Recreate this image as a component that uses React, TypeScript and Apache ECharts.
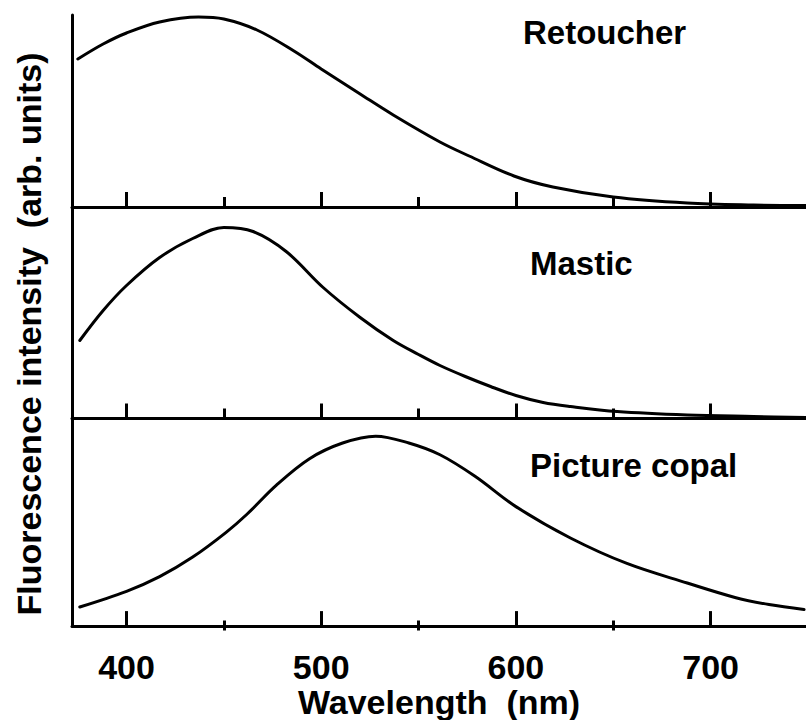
import React, { useEffect, useRef } from "react";
import * as echarts from "echarts";

// ---- data ----
const majorTicks = [400, 500, 600, 700];
const minorTicks = [450, 550, 650];
const xMin = 372;
const xMax = 749;

const retoucherWl = [375, 388, 400, 417, 437, 450, 467, 486, 500, 520, 537, 561, 576, 599, 619, 650, 688, 722, 749];
const retoucherVal = [148, 163, 174, 185, 190, 188, 177, 156, 138, 113, 92, 65, 51, 31, 20, 10, 4, 2, 1.5];

const masticWl = [376, 388, 400, 417, 434, 450, 465, 482, 501, 520, 537, 550, 561, 574, 587, 600, 614, 628, 652, 688, 722, 749];
const masticVal = [78, 108, 133, 161, 180, 191, 187, 167, 131, 101, 78, 64, 53, 42, 32, 23, 16, 12, 7, 3.5, 2, 1];

const copalWl = [376, 400, 417, 434, 451, 462, 477, 494, 511, 528, 545, 561, 579, 600, 628, 657, 688, 713, 730, 748];
const copalVal = [19.5, 35.5, 50.5, 70.5, 95.5, 114.5, 144, 171, 187, 194, 187, 175, 153, 122, 90, 64, 44, 29, 22, 17];

const panelNames = ["Retoucher", "Mastic", "Picture copal"];
const yTitle = "Fluorescence intensity  (arb. units)";
const xTitle = "Wavelength  (nm)";

const FONT = "'Liberation Sans', Arial, Helvetica, sans-serif";

export default function App() {
  const ref = useRef<HTMLDivElement>(null);

  useEffect(() => {
    if (!ref.current) return;
    const chart = echarts.init(ref.current, null, { renderer: "svg" });

    const panels = [
      { top: 15, height: 192, wl: retoucherWl, val: retoucherVal },
      { top: 207, height: 211.5, wl: masticWl, val: masticVal },
      { top: 418.5, height: 212, wl: copalWl, val: copalVal },
    ];
    const labelPos = [
      { x: 523, y: 32 },
      { x: 530, y: 263 },
      { x: 530, y: 465 },
    ];

    const grid: any[] = [];
    const xAxis: any[] = [];
    const yAxis: any[] = [];
    const series: any[] = [];

    const tickStyle = { color: "#000", width: 3 };

    panels.forEach((p, i) => {
      grid.push({ left: 72, right: 0, top: p.top, height: p.height, containLabel: false });
      const isBottom = i === panels.length - 1;
      // main axis: baseline + major ticks (pointing up)
      xAxis.push({
        type: "value",
        gridIndex: i,
        position: "bottom",
        min: xMin,
        max: xMax,
        splitLine: { show: false },
        axisLine: { show: true, onZero: false, lineStyle: { color: "#000", width: 3 } },
        axisTick: { show: true, inside: true, length: 15, customValues: majorTicks, lineStyle: tickStyle },
        axisLabel: {
          show: isBottom,
          customValues: majorTicks,
          margin: 24,
          color: "#000",
          fontSize: 34,
          fontWeight: "bold",
          fontFamily: FONT,
        },
        name: isBottom ? xTitle : "",
        nameLocation: "middle",
        nameGap: 50,
        nameTextStyle: { color: "#000", fontSize: 34, fontWeight: "bold", fontFamily: FONT },
      });
      yAxis.push({
        type: "value",
        gridIndex: i,
        min: 0,
        max: p.height,
        splitLine: { show: false },
        axisLine: { show: true, onZero: false, lineStyle: { color: "#000", width: 3 } },
        axisTick: { show: false },
        axisLabel: { show: false },
      });
      series.push({
        type: "line",
        name: panelNames[i],
        xAxisIndex: i,
        yAxisIndex: i,
        data: p.wl.map((w, k) => [w, p.val[k]]),
        smooth: 0.35,
        showSymbol: false,
        symbol: "none",
        lineStyle: { color: "#000", width: 3, cap: "round" },
      });
    });

    // helper strips whose top edge sits on each panel baseline; their top axis
    // carries the minor ticks (450, 550, 650) pointing up into the panel above
    const stripTops = [207, 418.5, 630.5];
    stripTops.forEach((t) => {
      const gi = grid.length;
      grid.push({ left: 72, right: 0, top: t, height: 30, containLabel: false });
      xAxis.push({
        type: "value",
        gridIndex: gi,
        position: "top",
        min: xMin,
        max: xMax,
        splitLine: { show: false },
        axisLine: { show: false, onZero: false },
        axisTick: { show: true, inside: false, length: 10, customValues: minorTicks, lineStyle: tickStyle },
        axisLabel: { show: false },
      });
      yAxis.push({
        type: "value",
        gridIndex: gi,
        min: 0,
        max: 1,
        show: false,
      });
    });

    const graphic: any[] = panelNames.map((n, i) => ({
      type: "text",
      x: labelPos[i].x,
      y: labelPos[i].y,
      style: {
        text: n,
        fill: "#000",
        font: `bold 33px ${FONT}`,
        align: "left",
        verticalAlign: "middle",
      },
    }));
    graphic.push({
      type: "text",
      x: 29,
      y: 334,
      rotation: Math.PI / 2,
      style: {
        text: yTitle,
        fill: "#000",
        font: `bold 34px ${FONT}`,
        align: "center",
        verticalAlign: "middle",
      },
    });

    chart.setOption({
      animation: false,
      backgroundColor: "#fff",
      grid,
      xAxis,
      yAxis,
      series,
      graphic,
    });

    return () => chart.dispose();
  }, []);

  return (
    <div
      ref={ref}
      style={{ position: "fixed", left: 0, top: 0, width: 806, height: 720 }}
    />
  );
}
